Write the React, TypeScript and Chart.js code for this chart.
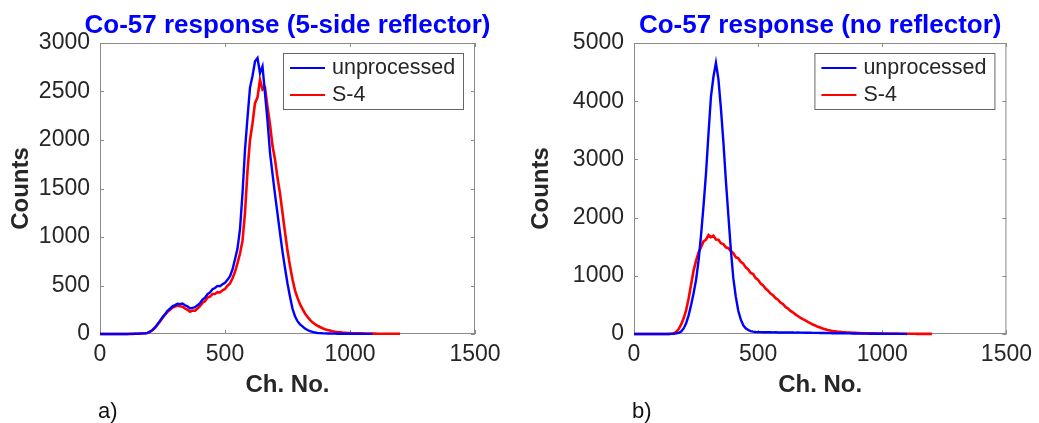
import React, { useEffect, useRef } from "react";
import { Chart, registerables } from "chart.js";

Chart.register(...registerables);

// ---------------- data ----------------
const CHANNELS = [
  0, 10, 20, 30, 40, 50, 60, 70, 80, 90,
  100, 110, 120, 130, 140, 150, 160, 170, 180, 190,
  200, 210, 220, 230, 240, 250, 260, 270, 280, 290,
  300, 310, 320, 330, 340, 350, 360, 370, 380, 390,
  400, 410, 420, 430, 440, 450, 460, 470, 480, 490,
  500, 510, 520, 530, 540, 550, 560, 570, 580, 590,
  600, 610, 620, 630, 640, 650, 660, 670, 680, 690,
  700, 710, 720, 730, 740, 750, 760, 770, 780, 790,
  800, 810, 820, 830, 840, 850, 860, 870, 880, 890,
  900, 910, 920, 930, 940, 950, 960, 970, 980, 990,
  1000, 1010, 1020, 1030, 1040, 1050, 1060, 1070, 1080, 1090,
  1100, 1110, 1120, 1130, 1140, 1150, 1160, 1170, 1180, 1190,
  1200,
];

// a) Co-57 response (5-side reflector)
const A_UNPROCESSED = [
  0, 0, 0, 0, 0, 0, 0, 0, 0, 0,
  0, 0, 1, 1, 2, 3, 4, 6, 8, 12,
  25, 42, 68, 100, 135, 172, 205, 238, 262, 285,
  298, 312, 308, 314, 296, 286, 264, 270, 276, 296,
  318, 354, 374, 410, 428, 462, 474, 496, 493, 512,
  528, 558, 595, 665, 770, 880, 1080, 1450, 1900, 2230,
  2540, 2660, 2810, 2845, 2690, 2760, 2480, 2200, 1870, 1650,
  1440, 1240, 1040, 850, 680, 520, 385, 262, 182, 132,
  100, 78, 56, 41, 29, 21, 15, 11, 9, 7,
  6, 5, 5, 4, 4, 3, 3, 3, 2, 2,
  2, 2, 1, 2, 1, 1, 1, 1, 1, 1,
];
const A_S4 = [
  0, 0, 0, 0, 0, 0, 0, 0, 0, 0,
  0, 0, 1, 1, 2, 3, 4, 5, 7, 11,
  22, 38, 62, 95, 130, 166, 198, 228, 250, 272,
  284, 294, 286, 282, 264, 250, 230, 242, 240, 262,
  286, 322, 338, 376, 386, 412, 412, 432, 428, 450,
  464, 498, 520, 575, 640, 730, 830, 960, 1250, 1680,
  2000, 2170, 2380, 2440, 2620, 2520, 2540, 2340, 2160, 1940,
  1800, 1610, 1450, 1250, 1050, 860, 700, 565, 450, 372,
  308, 258, 212, 176, 146, 120, 101, 85, 72, 60,
  50, 42, 35, 29, 24, 20, 17, 14, 12, 10,
  9, 8, 7, 7, 6, 6, 5, 5, 4, 4,
  4, 3, 3, 3, 3, 2, 2, 2, 2, 2,
  2,
];

// b) Co-57 response (no reflector)
const B_UNPROCESSED = [
  0, 0, 0, 0, 0, 0, 0, 0, 0, 0,
  0, 0, 0, 1, 1, 2, 5, 10, 20, 42,
  95, 185, 320, 500, 700, 930, 1260, 1700, 2200, 2760,
  3440, 4080, 4420, 4660, 4380, 3880, 3300, 2640, 2040, 1450,
  960, 640, 400, 250, 150, 98, 68, 50, 40, 35,
  33, 32, 30, 31, 29, 30, 28, 29, 27, 28,
  27, 26, 27, 25, 26, 24, 25, 23, 24, 22,
  22, 21, 20, 20, 19, 18, 18, 17, 16, 15,
  14, 14, 13, 12, 12, 11, 10, 10, 9, 8,
  8, 7, 7, 6, 6, 5, 5, 5, 4, 4,
  4, 3, 3, 3, 3, 2, 2, 2, 2, 2,
  1,
];
const B_S4 = [
  0, 0, 0, 0, 0, 0, 0, 0, 0, 0,
  0, 0, 0, 1, 2, 4, 12, 35, 85, 165,
  270, 410, 610, 850, 1090, 1260, 1400, 1490, 1590, 1620,
  1700, 1665, 1690, 1625, 1620, 1560, 1545, 1490, 1475, 1425,
  1390, 1320, 1300, 1240, 1210, 1145, 1110, 1050, 1030, 960,
  930, 865, 835, 780, 745, 695, 665, 615, 590, 540,
  515, 465, 438, 398, 372, 338, 310, 280, 256, 234,
  208, 188, 163, 147, 124, 112, 94, 82, 69, 61,
  51, 46, 39, 36, 30, 28, 24, 23, 20, 19,
  16, 16, 14, 13, 12, 12, 10, 10, 9, 9,
  8, 8, 7, 7, 6, 6, 6, 5, 5, 5,
  4, 4, 4, 4, 3, 3, 3, 3, 3, 2,
  2,
];

const X_TICKS = [0, 500, 1000, 1500];
const A_Y_TICKS = [0, 500, 1000, 1500, 2000, 2500, 3000];
const B_Y_TICKS = [0, 1000, 2000, 3000, 4000, 5000];
const SERIES_LABELS = ["unprocessed", "S-4"];
const X_LABEL = "Ch. No.";
const Y_LABEL = "Counts";

// ---------------- styles ----------------
const FONT = "'Liberation Sans', Arial, Helvetica, sans-serif";
const BLUE = "#0000ff";
const RED = "#ff0000";
const TEXT = "#262626";
const AXIS = "#8a8a8a";

type PanelProps = {
  left: number;
  width: number;
  areaLeft: number;
  padRight: number;
  title: string;
  letter: string;
  unprocessed: number[];
  s4: number[];
  yTicks: number[];
};

function toPoints(values: number[]) {
  return values.map((v, i) => ({ x: CHANNELS[i], y: v }));
}

function Panel(props: PanelProps) {
  const ref = useRef<HTMLCanvasElement | null>(null);

  useEffect(() => {
    const canvas = ref.current;
    if (!canvas) return;
    const yMax = props.yTicks[props.yTicks.length - 1];

    const decor = {
      id: "decor",
      beforeDatasetsDraw(chart: any) {
        const { ctx, chartArea: a, scales } = chart;
        ctx.save();
        // axes box
        ctx.strokeStyle = AXIS;
        ctx.lineWidth = 1;
        ctx.strokeRect(a.left + 0.5, a.top + 0.5, a.right - a.left - 1, a.bottom - a.top - 1);
        // inward ticks
        ctx.beginPath();
        X_TICKS.forEach((v) => {
          const px = Math.round(scales.x.getPixelForValue(v)) + 0.5;
          ctx.moveTo(px, a.bottom);
          ctx.lineTo(px, a.bottom - 4);
          ctx.moveTo(px, a.top);
          ctx.lineTo(px, a.top + 4);
        });
        props.yTicks.forEach((v) => {
          const py = Math.round(scales.y.getPixelForValue(v)) + 0.5;
          ctx.moveTo(a.left, py);
          ctx.lineTo(a.left + 4, py);
          ctx.moveTo(a.right, py);
          ctx.lineTo(a.right - 4, py);
        });
        ctx.stroke();
        ctx.restore();
      },
      afterDatasetsDraw(chart: any) {
        const { ctx, chartArea: a } = chart;
        ctx.save();
        // legend box
        const bw = 180;
        const bh = 56;
        const bx = a.right - 12 - bw;
        const by = a.top + 10;
        ctx.fillStyle = "#ffffff";
        ctx.fillRect(bx, by, bw, bh);
        ctx.strokeStyle = "#666666";
        ctx.lineWidth = 1;
        ctx.strokeRect(bx + 0.5, by + 0.5, bw, bh);
        const colors = [BLUE, RED];
        const rows = [by + 15, by + 42];
        ctx.font = `21.5px ${FONT}`;
        ctx.textBaseline = "middle";
        ctx.textAlign = "left";
        SERIES_LABELS.forEach((label, i) => {
          ctx.strokeStyle = colors[i];
          ctx.lineWidth = 2;
          ctx.beginPath();
          ctx.moveTo(bx + 7, rows[i]);
          ctx.lineTo(bx + 42, rows[i]);
          ctx.stroke();
          ctx.fillStyle = TEXT;
          ctx.fillText(label, bx + 49, rows[i]);
        });

        // title
        ctx.fillStyle = BLUE;
        ctx.font = `bold 26px ${FONT}`;
        ctx.textAlign = "center";
        ctx.textBaseline = "alphabetic";
        ctx.fillText(props.title, (a.left + a.right) / 2, 33);

        // panel letter
        ctx.fillStyle = "#111111";
        ctx.font = `22px ${FONT}`;
        ctx.textAlign = "left";
        ctx.textBaseline = "middle";
        ctx.fillText(props.letter, a.left - 2, 412);
        ctx.restore();
      },
    };

    const chart = new Chart(canvas, {
      type: "line",
      data: {
        datasets: [
          {
            label: SERIES_LABELS[0],
            data: toPoints(props.unprocessed),
            borderColor: BLUE,
            backgroundColor: BLUE,
            borderWidth: 2.4,
            pointRadius: 0,
            tension: 0,
            clip: 4,
          },
          {
            label: SERIES_LABELS[1],
            data: toPoints(props.s4),
            borderColor: RED,
            backgroundColor: RED,
            borderWidth: 2.6,
            pointRadius: 0,
            tension: 0,
            clip: 4,
          },
        ],
      },
      options: {
        animation: false,
        responsive: false,
        devicePixelRatio: 1,
        layout: { padding: { left: 0, right: props.padRight, top: 43, bottom: 0 } },
        plugins: {
          legend: { display: false },
          tooltip: { enabled: false },
          title: { display: false },
        },
        scales: {
          x: {
            type: "linear",
            min: 0,
            max: 1500,
            afterBuildTicks: (s: any) => {
              s.ticks = X_TICKS.map((v) => ({ value: v }));
            },
            afterFit: (s: any) => {
              s.height = 89;
            },
            ticks: {
              font: { family: FONT, size: 23 },
              color: TEXT,
              padding: 7,
              maxRotation: 0,
              autoSkip: false,
              callback: (v: any) => String(v),
            },
            grid: { display: false, drawTicks: false },
            border: { display: false },
            title: {
              display: true,
              text: X_LABEL,
              color: TEXT,
              font: { family: FONT, size: 24, weight: "bold" },
              padding: { top: 0, bottom: 23 },
            },
          },
          y: {
            type: "linear",
            min: 0,
            max: yMax,
            afterBuildTicks: (s: any) => {
              s.ticks = props.yTicks.map((v) => ({ value: v }));
            },
            afterFit: (s: any) => {
              s.width = props.areaLeft;
            },
            ticks: {
              font: { family: FONT, size: 23 },
              color: TEXT,
              padding: 10,
              autoSkip: false,
              callback: (v: any) => String(v),
            },
            grid: { display: false, drawTicks: false },
            border: { display: false },
            title: {
              display: true,
              text: Y_LABEL,
              color: TEXT,
              font: { family: FONT, size: 24, weight: "bold" },
              padding: { top: 7, bottom: 0 },
            },
          },
        },
      },
      plugins: [decor],
    } as any);

    return () => chart.destroy();
  }, []);

  return (
    <canvas
      ref={ref}
      width={props.width}
      height={423}
      style={{ position: "absolute", left: props.left, top: 0, width: props.width, height: 423 }}
    />
  );
}

export default function App() {
  return (
    <div
      style={{
        position: "fixed",
        left: 0,
        top: 0,
        width: 1039,
        height: 423,
        background: "#ffffff",
      }}
    >
      <Panel
        left={0}
        width={520}
        areaLeft={100}
        padRight={45}
        title="Co-57 response (5-side reflector)"
        letter="a)"
        unprocessed={A_UNPROCESSED}
        s4={A_S4}
        yTicks={A_Y_TICKS}
      />
      <Panel
        left={520}
        width={519}
        areaLeft={114}
        padRight={30}
        title="Co-57 response (no reflector)"
        letter="b)"
        unprocessed={B_UNPROCESSED}
        s4={B_S4}
        yTicks={B_Y_TICKS}
      />
    </div>
  );
}
